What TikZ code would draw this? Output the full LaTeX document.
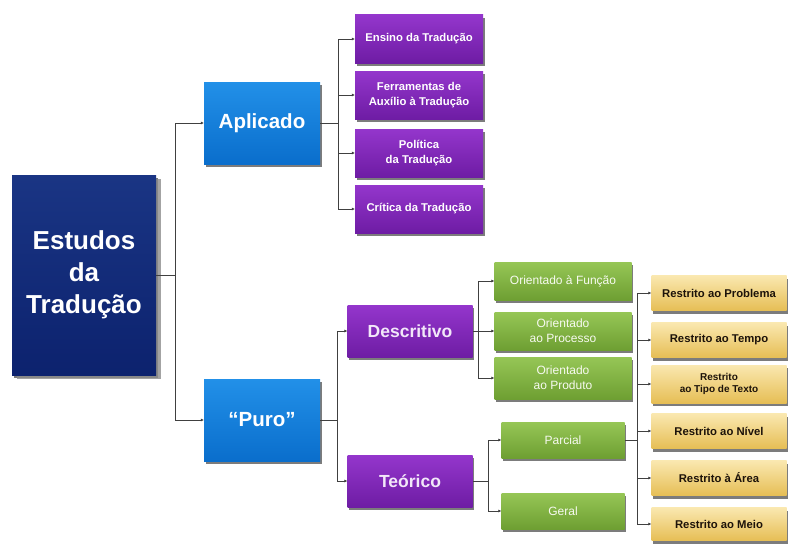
\documentclass[tikz,border=0pt]{standalone}
\usepackage{fontspec}
\setmainfont{Liberation Sans}
\usetikzlibrary{shadows,arrows.meta}
\definecolor{navy}{HTML}{0C226E}
\definecolor{navytop}{HTML}{1A3584}
\definecolor{bluetop}{HTML}{2290E8}
\definecolor{bluebot}{HTML}{0A6ECC}
\definecolor{purtop}{HTML}{9436CC}
\definecolor{purbot}{HTML}{6E1CA4}
\definecolor{grntop}{HTML}{96C656}
\definecolor{grnbot}{HTML}{6E9F32}
\definecolor{tantop}{HTML}{FAE8B0}
\definecolor{tanbot}{HTML}{E6BE55}
\definecolor{lnk}{HTML}{404040}
\tikzset{
  x=1pt,y=-1pt,
  basebox/.style={rectangle, align=center, inner sep=1pt,
     drop shadow={shadow xshift=1.5pt, shadow yshift=-3pt, fill=black!60, opacity=0.85}},
  mainbox/.style={basebox, top color=navytop, bottom color=navy, text=white,
     font=\bfseries\fontsize{26}{32}\selectfont, minimum width=144pt, minimum height=200pt,
     drop shadow={shadow xshift=5pt, shadow yshift=-4pt, fill=black!45, opacity=0.8}},
  bluebox/.style={basebox, top color=bluetop, bottom color=bluebot, text=white,
     font=\bfseries\fontsize{20.5}{24}\selectfont, minimum width=116pt, minimum height=82pt},
  purbig/.style={basebox, top color=purtop, bottom color=purbot, text=white!88!purtop,
     font=\bfseries\fontsize{17.5}{20}\selectfont, minimum width=125pt, minimum height=52pt},
  purbox/.style={basebox, top color=purtop, bottom color=purbot, text=white,
     font=\bfseries\fontsize{11.3}{15}\selectfont, minimum width=128pt, minimum height=48pt},
  grnbox/.style={basebox, top color=grntop, bottom color=grnbot, text=white!92!grntop,
     font=\fontsize{12}{15}\selectfont, minimum width=137pt, minimum height=38pt},
  grnsmall/.style={grnbox, minimum width=123pt, minimum height=36pt},
  tanbox/.style={basebox, top color=tantop, bottom color=tanbot, text=black!85!brown,
     font=\bfseries\fontsize{11.3}{12}\selectfont, minimum width=135pt, minimum height=35pt},
  link/.style={draw=lnk, line width=0.8pt},
  tip/.style={link, -{Latex[length=3pt,width=3pt]}}
}
\begin{document}
\begin{tikzpicture}
\useasboundingbox (0,0) rectangle (791,543);
\fill[white] (0,0) rectangle (791,543);

% nodes
\node[mainbox] (main) at (84,275) {Estudos\\da\\Tradução};
\node[bluebox] (apl) at (262,123) {Aplicado};
\node[bluebox] (puro) at (262,420) {“Puro”};

\node[purbox] (ens) at (419,39) {Ensino da Tradução};
\node[purbox] (fer) at (419,95) {Ferramentas de\\Auxílio à Tradução};
\node[purbox] (pol) at (419,153) {Política\\da Tradução};
\node[purbox] (cri) at (419,209) {Crítica da Tradução};

\node[purbig] (desc) at (410,331) {Descritivo};
\node[purbig] (teo) at (410,481) {Teórico};

\node[grnbox] (ofun) at (563,281) {Orientado à Função};
\node[grnbox] (opro) at (563,331) {Orientado\\ao Processo};
\node[grnbox, minimum height=42pt] (oprd) at (563,378) {Orientado\\ao Produto};

\node[grnsmall] (parc) at (563,440) {Parcial};
\node[grnsmall] (ger) at (563,511) {Geral};

\node[tanbox] (rpb) at (719,293) {Restrito ao Problema};
\node[tanbox] (rtm) at (719,340) {Restrito ao Tempo};
\node[tanbox, font=\bfseries\fontsize{10}{12}\selectfont, minimum height=38pt] (rtt) at (719,384) {Restrito\\ao Tipo de Texto};
\node[tanbox] (rnv) at (719,431) {Restrito ao Nível};
\node[tanbox] (rar) at (719,478) {Restrito à Área};
\node[tanbox, minimum height=33pt] (rme) at (719,524) {Restrito ao Meio};

% bus coordinates
\coordinate (b1) at (175,275);
\coordinate (b2) at (338,123);
\coordinate (b3) at (337,420);
\coordinate (b4) at (478,331);
\coordinate (b5) at (488,481);
\coordinate (b6) at (637,440);

% connectors
\draw[link] (main.east) -- (b1);
\draw[tip] (b1) |- (apl.west);
\draw[tip] (b1) |- (puro.west);

\draw[link] (apl.east) -- (b2);
\draw[tip] (b2) |- (ens.west);
\draw[tip] (b2) |- (fer.west);
\draw[tip] (b2) |- (pol.west);
\draw[tip] (b2) |- (cri.west);

\draw[link] (puro.east) -- (b3);
\draw[tip] (b3) |- (desc.west);
\draw[tip] (b3) |- (teo.west);

\draw[link] (desc.east) -- (b4);
\draw[tip] (b4) |- (ofun.west);
\draw[tip] (b4) |- (opro.west);
\draw[tip] (b4) |- (oprd.west);

\draw[link] (teo.east) -- (b5);
\draw[tip] (b5) |- (parc.west);
\draw[tip] (b5) |- (ger.west);

\draw[link] (parc.east) -- (b6);
\draw[tip] (b6) |- (rpb.west);
\draw[tip] (b6) |- (rtm.west);
\draw[tip] (b6) |- (rtt.west);
\draw[tip] (b6) |- (rnv.west);
\draw[tip] (b6) |- (rar.west);
\draw[tip] (b6) |- (rme.west);
\end{tikzpicture}
\end{document}
